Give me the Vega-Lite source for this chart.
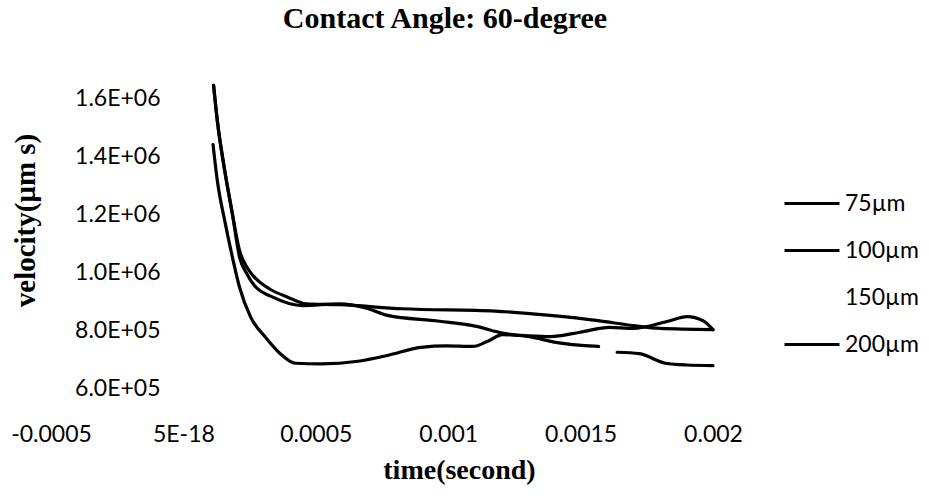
{
  "$schema": "https://vega.github.io/schema/vega-lite/v6.json",
  "autosize": {"type": "none"},
  "width": 662,
  "height": 319,
  "padding": {"left": 51, "top": 84, "right": 216, "bottom": 101},
  "background": "white",
  "title": {"text": "Contact Angle: 60-degree", "font": "Liberation Serif", "fontSize": 30, "fontWeight": "bold", "color": "black", "anchor": "middle", "frame": "group", "dx": 63, "offset": 30, "baseline": "middle"},
  "data": {"values": [
    {"s": "75µm", "t": 0.000114, "v": 1645000},
    {"s": "75µm", "t": 0.000128, "v": 1524000},
    {"s": "75µm", "t": 0.000156, "v": 1352000},
    {"s": "75µm", "t": 0.000185, "v": 1202000},
    {"s": "75µm", "t": 0.000212, "v": 1076000},
    {"s": "75µm", "t": 0.000240, "v": 1018000},
    {"s": "75µm", "t": 0.000268, "v": 984000},
    {"s": "75µm", "t": 0.000324, "v": 944000},
    {"s": "75µm", "t": 0.000394, "v": 915000},
    {"s": "75µm", "t": 0.000464, "v": 892000},
    {"s": "75µm", "t": 0.000589, "v": 889000},
    {"s": "75µm", "t": 0.000826, "v": 875000},
    {"s": "75µm", "t": 0.001177, "v": 867000},
    {"s": "75µm", "t": 0.001385, "v": 852000},
    {"s": "75µm", "t": 0.001566, "v": 834000},
    {"s": "75µm", "t": 0.001698, "v": 817000},
    {"s": "75µm", "t": 0.0018, "v": 807000},
    {"s": "75µm", "t": 0.002, "v": 803000},
    {"s": "100µm", "t": 0.000114, "v": 1645000},
    {"s": "100µm", "t": 0.000128, "v": 1524000},
    {"s": "100µm", "t": 0.000156, "v": 1352000},
    {"s": "100µm", "t": 0.000185, "v": 1202000},
    {"s": "100µm", "t": 0.000212, "v": 1053000},
    {"s": "100µm", "t": 0.000240, "v": 995000},
    {"s": "100µm", "t": 0.000268, "v": 955000},
    {"s": "100µm", "t": 0.000338, "v": 915000},
    {"s": "100µm", "t": 0.000450, "v": 886000},
    {"s": "100µm", "t": 0.000589, "v": 892000},
    {"s": "100µm", "t": 0.000688, "v": 878000},
    {"s": "100µm", "t": 0.000771, "v": 852000},
    {"s": "100µm", "t": 0.000967, "v": 832000},
    {"s": "100µm", "t": 0.001107, "v": 814000},
    {"s": "100µm", "t": 0.001205, "v": 791000},
    {"s": "100µm", "t": 0.001317, "v": 777000},
    {"s": "100µm", "t": 0.001400, "v": 760000},
    {"s": "100µm", "t": 0.001568, "v": 745000},
    {"s": "100µm", "t": 0.0016, "v": null},
    {"s": "100µm", "t": 0.001638, "v": 725000},
    {"s": "100µm", "t": 0.001722, "v": 720000},
    {"s": "100µm", "t": 0.001820, "v": 687000},
    {"s": "100µm", "t": 0.0019, "v": 681000},
    {"s": "100µm", "t": 0.002, "v": 679000},
    {"s": "200µm", "t": 0.000112, "v": 1441000},
    {"s": "200µm", "t": 0.000128, "v": 1317000},
    {"s": "200µm", "t": 0.000156, "v": 1179000},
    {"s": "200µm", "t": 0.000185, "v": 1053000},
    {"s": "200µm", "t": 0.000212, "v": 949000},
    {"s": "200µm", "t": 0.000254, "v": 846000},
    {"s": "200µm", "t": 0.000310, "v": 777000},
    {"s": "200µm", "t": 0.000366, "v": 720000},
    {"s": "200µm", "t": 0.000422, "v": 687000},
    {"s": "200µm", "t": 0.000520, "v": 685000},
    {"s": "200µm", "t": 0.000660, "v": 694000},
    {"s": "200µm", "t": 0.000771, "v": 714000},
    {"s": "200µm", "t": 0.000897, "v": 742000},
    {"s": "200µm", "t": 0.000995, "v": 747000},
    {"s": "200µm", "t": 0.001093, "v": 745000},
    {"s": "200µm", "t": 0.001149, "v": 763000},
    {"s": "200µm", "t": 0.001205, "v": 786000},
    {"s": "200µm", "t": 0.001274, "v": 783000},
    {"s": "200µm", "t": 0.001386, "v": 779000},
    {"s": "200µm", "t": 0.001498, "v": 794000},
    {"s": "200µm", "t": 0.001610, "v": 811000},
    {"s": "200µm", "t": 0.001698, "v": 807000},
    {"s": "200µm", "t": 0.001826, "v": 831000},
    {"s": "200µm", "t": 0.001902, "v": 848000},
    {"s": "200µm", "t": 0.001962, "v": 834000},
    {"s": "200µm", "t": 0.002, "v": 803000}
  ]},
  "mark": {"type": "line", "interpolate": "monotone", "strokeWidth": 3.2, "strokeCap": "round", "invalid": "break-paths-filter-domains"},
  "encoding": {
    "x": {
      "field": "t", "type": "quantitative",
      "scale": {"domain": [-0.0005, 0.002], "nice": false, "zero": false},
      "axis": {
        "values": [-0.0005, 0, 0.0005, 0.001, 0.0015, 0.002],
        "format": ".4~f",
        "labelExpr": "datum.value == 0 ? '5E-18' : (datum.value < 0 ? '-0.0005' : datum.label)",
        "labelFont": "Lato", "labelFontSize": 23, "labelColor": "black",
        "labelPadding": 20, "tickSize": 0, "ticks": false, "domain": false, "grid": false,
        "labelBaseline": "top", "labelFlush": false, "labelOverlap": false,
        "title": "time(second)", "titleFont": "Liberation Serif", "titleFontSize": 28, "titleFontWeight": "bold", "titleColor": "black",
        "titleX": 408, "titleY": 67, "titleAlign": "center", "titleBaseline": "middle"
      }
    },
    "y": {
      "field": "v", "type": "quantitative",
      "scale": {"domain": [550000, 1650000], "nice": false, "zero": false},
      "axis": {
        "values": [600000, 800000, 1000000, 1200000, 1400000, 1600000],
        "labelExpr": "datum.value >= 1000000 ? format(datum.value / 1000000, '.1f') + 'E+06' : format(datum.value / 100000, '.1f') + 'E+05'",
        "labelFont": "Lato", "labelFontSize": 23, "labelColor": "black",
        "labelPadding": 0, "tickSize": 0, "ticks": false, "domain": false, "grid": false,
        "labelFlush": false, "labelOverlap": false, "offset": -109,
        "title": "velocity(μm s)", "titleFont": "Liberation Serif", "titleFontSize": 29, "titleFontWeight": "bold", "titleColor": "black",
        "titleX": -135, "titleY": 136, "titleAngle": -90, "titleAlign": "center", "titleBaseline": "middle"
      }
    },
    "color": {
      "field": "s", "type": "nominal",
      "scale": {"domain": ["75µm", "100µm", "150µm", "200µm"], "range": ["black", "black", "white", "black"]},
      "legend": {
        "orient": "none", "legendX": 747, "legendY": 98, "title": null,
        "symbolType": "M-1.75,0H1", "symbolSize": 1600, "symbolStrokeWidth": 3,
        "labelFont": "Lato", "labelFontSize": 23, "labelColor": "black", "labelOffset": 4,
        "rowPadding": 13, "padding": 0, "labelLimit": 200
      }
    }
  },
  "config": {"view": {"stroke": null}}
}
